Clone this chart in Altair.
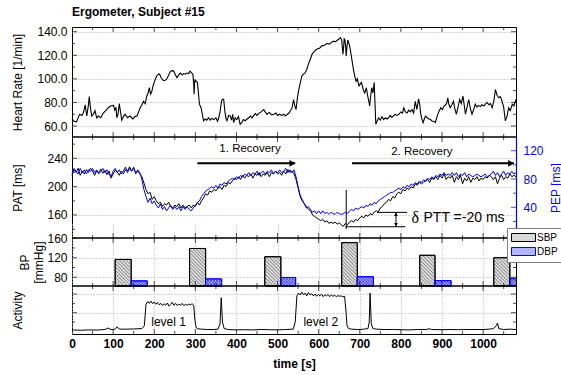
import altair as alt
import pandas as pd

FONT = "Liberation Sans"

# ------------------------------------------------------------------ data
hr_t = [0, 5, 11, 16, 19, 24, 28, 32, 36, 40,
        42, 45, 48, 52, 56, 60, 64, 70, 76, 82,
        88, 94, 101, 104, 107, 109, 112, 115, 118, 121,
        125, 129, 135, 141, 148, 153, 158, 162, 166, 170,
        174, 178, 182, 186, 188, 191, 194, 197, 200, 203,
        206, 210, 213, 217, 221, 225, 230, 235, 239, 243,
        247, 251, 255, 259, 263, 268, 272, 275, 280, 284,
        287, 291, 294, 296, 297, 298, 299, 302, 305, 307,
        310, 314, 317, 320, 324, 328, 332, 336, 340, 345,
        350, 354, 357, 360, 364, 367, 369, 372, 375, 377,
        381, 385, 388, 391, 393, 397, 401, 405, 409, 413,
        417, 421, 426, 430, 434, 438, 442, 446, 450, 455,
        460, 466, 470, 474, 480, 486, 491, 496, 500, 505,
        510, 515, 519, 524, 528, 531, 535, 539, 542, 545,
        548, 551, 555, 559, 563, 567, 571, 575, 579, 584,
        590, 596, 602, 608, 614, 620, 626, 631, 636, 641,
        646, 650, 653, 656, 658, 659, 661, 662, 664, 666,
        667, 669, 671, 673, 676, 680, 685, 688, 691, 694,
        698, 701, 704, 707, 709, 712, 716, 719, 722, 724,
        726, 729, 732, 735, 737, 739, 742, 746, 750, 754,
        758, 762, 766, 770, 774, 778, 782, 786, 790, 795,
        800, 804, 807, 811, 815, 819, 823, 827, 831, 835,
        839, 843, 846, 848, 851, 854, 857, 860, 864, 868,
        872, 876, 880, 884, 888, 892, 897, 901, 905, 909,
        912, 914, 917, 920, 924, 928, 931, 935, 939, 943,
        947, 951, 954, 957, 961, 965, 969, 973, 977, 981,
        985, 989, 993, 997, 1002, 1006, 1010, 1014, 1018, 1022,
        1026, 1030, 1034, 1038, 1042, 1046, 1050, 1054, 1058, 1062,
        1066, 1071, 1075, 1080]
hr_v = [66, 64, 63.5, 68, 70, 69, 71.5, 78, 68.5, 78,
        85, 75, 68.5, 70, 73, 67, 68.5, 67, 71, 73,
        75.5, 77, 77.5, 73.5, 76, 67, 70, 79, 72, 65,
        68, 70, 67, 68.5, 66, 68, 68.5, 72, 75.5, 78,
        81, 79, 85.5, 89, 92.5, 87, 89, 94, 97, 100,
        102.5, 104, 104, 101, 99, 98.5, 99.5, 103, 106, 107,
        106.8, 104, 101, 103, 105, 103.5, 104.5, 104, 105, 104.5,
        106.5, 105, 104, 96, 87, 95, 99, 98, 97, 90,
        78.5, 75.5, 70, 64.5, 66, 65, 67, 65, 66.5, 65.5,
        67, 64, 67, 72, 81.5, 83, 82.5, 72, 66, 64.5,
        69, 68.5, 65, 70, 63, 67, 65.5, 68, 61.5, 63,
        65.5, 64.5, 66, 67, 68.5, 67, 69, 70.5, 69, 71,
        72, 74, 72, 70, 71.5, 69.5, 70, 71, 69, 70,
        69, 70, 68.5, 70, 71, 73, 75, 82.5, 77, 74,
        83, 90, 96, 102.5, 104, 105, 108, 112.5, 116, 121,
        123.5, 125.3, 126, 128, 128.5, 130, 129.5, 131, 132, 131.5,
        133, 134, 135, 133, 125, 121, 128, 134, 133, 126,
        119.5, 128, 133, 131, 127, 118, 107, 102, 98, 100,
        94, 95.5, 97, 93, 90, 88, 92.5, 86, 81, 77,
        84, 92.5, 88, 97, 80, 61.5, 64, 67, 65, 68,
        65.5, 67, 66, 67, 69, 67.5, 68.5, 70, 69, 70,
        72, 71, 75.5, 72, 71, 73.5, 72, 74, 71, 81,
        74, 83, 78, 71, 66, 62.8, 66, 68.5, 67, 66,
        65.5, 64, 64, 63, 68, 72, 75.5, 74, 77, 78,
        80, 84, 78, 75.5, 78, 81, 75, 70, 76, 82.5,
        79, 85.5, 78, 70, 76, 82.5, 75, 70, 74, 78.5,
        76, 77.5, 76.5, 78, 77, 79, 80, 78, 79, 75.5,
        81, 91, 86, 84, 85, 81, 76, 64.5, 68, 75.5,
        73, 78.5, 77, 82.5]

pat_t = list(range(0, 1081, 5))
pat_v = [218, 224, 220, 226, 216, 222, 218, 224, 220, 226, 222, 216, 222, 220, 225, 219, 223, 217, 222, 212,
         218, 223, 221, 216, 222, 218, 224, 222, 228, 222, 226, 220, 222, 218, 214, 205, 196, 190, 192, 182,
         186, 180, 176, 178, 172, 176, 174, 178, 172, 170, 174, 172, 176, 170, 174, 170, 172, 174, 170, 174,
         172, 178, 174, 180, 184, 190, 188, 194, 192, 196, 194, 198, 200, 196, 202, 200, 206, 204, 208, 212,
         210, 214, 210, 216, 212, 216, 214, 218, 212, 218, 216, 220, 214, 218, 216, 220, 214, 220, 218, 222,
         218, 220, 216, 222, 218, 224, 220, 222, 218, 210, 198, 186, 180, 176, 172, 168, 166, 160, 158, 156,
         154, 152, 154, 150, 152, 148, 150, 148, 150, 147, 149, 146, 144, 148, 146, 150, 152, 150, 154, 152,
         156, 158, 156, 160, 158, 162, 160, 164, 166, 164, 170, 172, 176, 178, 182, 180, 186, 184, 190, 192,
         190, 196, 194, 198, 196, 200, 198, 204, 202, 206, 204, 206, 208, 210, 206, 212, 210, 214, 210, 216,
         212, 218, 210, 214, 212, 216, 206, 214, 210, 216, 204, 212, 208, 214, 206, 212, 210, 214, 208, 212,
         210, 214, 212, 216, 214, 210, 214, 204, 212, 216, 210, 214, 212, 218, 214, 216, 214]
pep_v = [85, 95, 91, 87, 95, 89, 93, 87, 93, 91, 95, 89, 93, 87, 91, 95, 89, 93, 87, 83,
         91, 95, 89, 93, 87, 91, 97, 89, 95, 91, 97, 87, 93, 89, 79, 65, 55, 47, 53, 45,
         49, 43, 39, 45, 37, 41, 35, 39, 43, 37, 41, 37, 41, 35, 41, 37, 41, 37, 35, 39,
         43, 47, 49, 55, 59, 63, 65, 67, 69, 67, 71, 67, 73, 71, 75, 73, 77, 79, 81, 79,
         83, 81, 85, 83, 87, 85, 89, 85, 89, 87, 91, 85, 89, 91, 87, 91, 89, 93, 87, 91,
         89, 93, 89, 91, 95, 89, 93, 89, 93, 83, 69, 57, 51, 45, 39, 41, 37, 33, 35, 31,
         35, 31, 35, 31, 33, 30, 33, 31, 30, 33, 31, 30, 31, 33, 31, 35, 37, 35, 39, 37,
         39, 41, 39, 43, 41, 45, 43, 47, 45, 49, 51, 53, 55, 57, 59, 61, 61, 63, 65, 67,
         65, 69, 67, 71, 69, 73, 71, 75, 73, 77, 75, 79, 77, 81, 79, 83, 81, 85, 83, 87,
         85, 89, 85, 87, 85, 89, 85, 89, 83, 87, 85, 89, 83, 87, 85, 83, 85, 87, 85, 83,
         85, 87, 83, 85, 87, 91, 85, 89, 83, 87, 91, 85, 89, 87, 91, 87, 89]

act_t = [0, 20, 40, 60, 80, 88, 95, 105, 110, 115,
         130, 150, 170, 176, 180, 184, 188, 192, 196, 200,
         204, 208, 212, 216, 220, 224, 228, 232, 236, 240,
         244, 248, 252, 256, 260, 264, 268, 272, 276, 280,
         284, 288, 292, 296, 299, 302, 306, 315, 330, 345,
         355, 360, 363, 366, 370, 380, 400, 420, 440, 460,
         480, 500, 520, 538, 543, 547, 551, 555, 559, 563,
         567, 571, 575, 579, 583, 587, 591, 595, 599, 603,
         607, 611, 615, 619, 623, 627, 631, 635, 639, 643,
         647, 651, 655, 659, 663, 666, 669, 673, 680, 695,
         710, 720, 723, 725, 728, 732, 740, 760, 780, 800,
         820, 840, 860, 870, 875, 900, 920, 940, 960, 980,
         1000, 1015, 1025, 1032, 1035, 1038, 1050, 1065, 1080]
act_v = [0.08, 0.06, 0.08, 0.07, 0.1, 0.18, 0.1, 0.12, 0.25, 0.12,
         0.12, 0.13, 0.15, 0.3, 1.45, 1.6, 1.5, 1.62, 1.48, 1.58,
         1.45, 1.55, 1.42, 1.5, 1.38, 1.48, 1.4, 1.52, 1.35, 1.45,
         1.56, 1.4, 1.5, 1.38, 1.46, 1.4, 1.5, 1.38, 1.45, 1.4,
         1.46, 1.42, 1.48, 1.4, 0.6, 0.2, 0.14, 0.12, 0.1, 0.1,
         0.12, 0.4, 1.8, 0.5, 0.15, 0.1, 0.08, 0.09, 0.08, 0.1,
         0.09, 0.08, 0.1, 0.12, 0.5, 1.9, 2.05, 1.95, 2.1, 1.95,
         2.05, 1.9, 2.08, 1.95, 2.02, 1.9, 2.0, 1.88, 1.98, 1.9,
         2.0, 1.86, 1.96, 1.9, 1.98, 1.86, 1.95, 1.88, 1.94, 1.85,
         1.92, 1.88, 1.9, 1.85, 1.88, 1.2, 0.3, 0.15, 0.12, 0.1,
         0.12, 0.15, 0.5, 2.05, 0.4, 0.15, 0.12, 0.1, 0.1, 0.09,
         0.08, 0.1, 0.1, 0.14, 0.1, 0.09, 0.1, 0.09, 0.1, 0.1,
         0.1, 0.12, 0.15, 0.3, 0.45, 0.15, 0.1, 0.12, 0.1]

sbp_start = [105, 286, 469, 656, 846, 1026]
sbp_end = [144, 325, 508, 694, 883, 1065]
sbp_val = [116.5, 139, 122, 151, 125, 120]
dbp_start = [144, 325, 508, 694, 883, 1065]
dbp_end = [183, 364, 544, 733, 922, 1104]
dbp_val = [72.5, 76.5, 79.5, 81, 73, 77]
bp_kinds = ["SBP", "DBP"]

# annotation texts / anchors
recovery_text = ["1. Recovery", "2. Recovery"]
recovery_text_t = [433, 851]
recovery_text_pat = [253, 249.5]
recovery_t0 = [305, 681]
recovery_t1 = [543, 1075]
recovery_pat = [233, 233]
level_text = ["level 1", "level 2"]
level_t = [235, 605]
level_act = [0.52, 0.52]
marker_t = [667]
marker_pat0 = [195.3]
marker_pat1 = [140.2]
dptt_line_t0 = [742, 665]
dptt_line_t1 = [815, 811]
dptt_line_pat = [163.7, 143.4]
dptt_arrow_t = [788]
dptt_sym_t = [826]
dptt_txt_t = [855]
dptt_txt_pat = [155.3]

# ------------------------------------------------------------------ layout
W, H = 444, 307
T_MAX = 1080
HR_DOM, HR_RNG = [50.7, 144], [110, 0]
PAT_DOM, PAT_RNG = [127.5, 270.1], [211, 110]
PEP_DOM = [-3.4, 139.4]
BP_DOM, BP_RNG = [62, 160.5], [259, 211]
ACT_DOM, ACT_RNG = [-0.14, 2.43], [307, 259]
BORDERS = [0, 110, 211, 259, 307]

xs = alt.Scale(domain=[0, T_MAX], nice=False, zero=False)
hr_s = alt.Scale(domain=HR_DOM, range=HR_RNG, nice=False, zero=False)
pat_s = alt.Scale(domain=PAT_DOM, range=PAT_RNG, nice=False, zero=False)
pep_s = alt.Scale(domain=PEP_DOM, range=PAT_RNG, nice=False, zero=False)
bp_s = alt.Scale(domain=BP_DOM, range=BP_RNG, nice=False, zero=False)
act_s = alt.Scale(domain=ACT_DOM, range=ACT_RNG, nice=False, zero=False)

GRID = dict(grid=True, gridColor="#b0b0b0", gridDash=[1, 2], gridWidth=1)

x_axis = alt.Axis(values=list(range(0, 1001, 100)), format="d", title="time [s]",
                  labelFontWeight="bold", titleFontWeight="bold", ticks=False,
                  domain=False, labelFlush=False, labelOverlap=False,
                  labelPadding=4, titlePadding=9, **GRID)


def yaxis(**kw):
    base = dict(orient="left", ticks=False, domain=False, labelFlush=False,
                labelOverlap=False, labelPadding=5, titleBaseline="middle",
                titleAlign="center", **GRID)
    base.update(kw)
    return alt.Axis(**base)


hr_axis = yaxis(values=[60, 80, 100, 120, 140], format=".1f",
                title="Heart Rate [1/min]", titleX=-54.5)
pat_axis = yaxis(values=[160, 200, 240], title="PAT [ms]", titleX=-54.5)
pep_axis = alt.Axis(orient="right", values=[40, 80, 120], title="PEP [ms]",
                    titleAngle=270, titleX=39, titleBaseline="middle", titleAlign="center",
                    grid=False, ticks=False, domain=True, domainColor="#0000ff",
                    domainWidth=1.2, labelColor="#0000ff", titleColor="#0000ff",
                    labelPadding=7, labelFlush=False, labelOverlap=False)
bp_axis = yaxis(values=[80, 120, 160], title=["BP", "[mmHg]"], titleX=-48)
act_axis = yaxis(values=[1, 2], labels=False, title="Activity", titleX=-54.5)


def X(field):
    return alt.X(field, scale=xs, axis=x_axis)


def Y(field, scale, axis):
    return alt.Y(field, scale=scale, axis=axis)


def yticks(major, minor, scale, axis, color="black", sides=("left", "right")):
    df = pd.DataFrame({"v": major + minor,
                       "len": [10] * len(major) + [6] * len(minor)})
    out = []
    for s in sides:
        out.append(alt.Chart(df).mark_tick(orient="horizontal", color=color,
                                           thickness=1, clip=True).encode(
            y=Y("v:Q", scale, axis),
            x=alt.value(0 if s == "left" else W),
            size=alt.Size("len:Q", scale=None)))
    return out


# ------------------------------------------------------------------ HR
hr_df = pd.DataFrame({"t": hr_t, "hr": hr_v})
hr_line = alt.Chart(hr_df).mark_line(color="black", strokeWidth=1.1).encode(
    x=X("t:Q"), y=Y("hr:Q", hr_s, hr_axis))
hr_group = alt.layer(hr_line, *yticks([60, 80, 100, 120, 140], [70, 90, 110, 130], hr_s, hr_axis))

# ------------------------------------------------------------------ PAT
pat_df = pd.DataFrame({"t": pat_t, "pat": pat_v})
pat_line = alt.Chart(pat_df).mark_line(color="black", strokeWidth=1).encode(
    x=X("t:Q"), y=Y("pat:Q", pat_s, pat_axis))

rec_df = pd.DataFrame({"t0": recovery_t0, "t1": recovery_t1, "p": recovery_pat,
                       "txt": recovery_text, "tt": recovery_text_t, "tp": recovery_text_pat})
rec_lines = alt.Chart(rec_df).mark_rule(color="black", strokeWidth=2).encode(
    x=X("t0:Q"), x2="t1:Q", y=Y("p:Q", pat_s, pat_axis))
rec_heads = alt.Chart(rec_df).transform_calculate(th="datum.t1 - 7").mark_point(
    shape="triangle-right", filled=True, color="black", size=45, opacity=1).encode(
    x=X("th:Q"), y=Y("p:Q", pat_s, pat_axis))
rec_text = alt.Chart(rec_df).mark_text(font=FONT, fontSize=11.5, color="black").encode(
    x=X("tt:Q"), y=Y("tp:Q", pat_s, pat_axis), text="txt:N")

mk_df = pd.DataFrame({"t": marker_t, "p0": marker_pat0, "p1": marker_pat1})
marker = alt.Chart(mk_df).mark_rule(color="black", strokeWidth=1).encode(
    x=X("t:Q"), y=Y("p0:Q", pat_s, pat_axis), y2="p1:Q")

dl_df = pd.DataFrame({"t0": dptt_line_t0, "t1": dptt_line_t1, "p": dptt_line_pat})
dlines = alt.Chart(dl_df).mark_rule(color="black", strokeWidth=1).encode(
    x=X("t0:Q"), x2="t1:Q", y=Y("p:Q", pat_s, pat_axis))
da_df = pd.DataFrame({"t": dptt_arrow_t, "p0": [dptt_line_pat[0]], "p1": [dptt_line_pat[1]]})
darrow = alt.Chart(da_df).mark_rule(color="black", strokeWidth=1).encode(
    x=X("t:Q"), y=Y("p0:Q", pat_s, pat_axis), y2="p1:Q")
dhead_up = alt.Chart(da_df).transform_calculate(p="datum.p0 - 3").mark_point(
    shape="triangle-up", filled=True, color="black", size=14, opacity=1).encode(
    x=X("t:Q"), y=Y("p:Q", pat_s, pat_axis))
dhead_dn = alt.Chart(da_df).transform_calculate(p="datum.p1 + 3").mark_point(
    shape="triangle-down", filled=True, color="black", size=14, opacity=1).encode(
    x=X("t:Q"), y=Y("p:Q", pat_s, pat_axis))
dt_df = pd.DataFrame({"ts": dptt_sym_t, "tt": dptt_txt_t, "p": dptt_txt_pat,
                      "sym": ["δ"], "txt": ["PTT =-20 ms"]})
dsym = alt.Chart(dt_df).mark_text(font="Liberation Serif", fontSize=16, align="left",
                                  baseline="middle", color="black").encode(
    x=X("ts:Q"), y=Y("p:Q", pat_s, pat_axis), text="sym:N")
dtxt = alt.Chart(dt_df).mark_text(font=FONT, fontSize=14, align="left",
                                  baseline="middle", color="black").encode(
    x=X("tt:Q"), y=Y("p:Q", pat_s, pat_axis), text="txt:N")

pat_group = alt.layer(pat_line, *yticks([160, 200, 240], [140, 180, 220, 260], pat_s, pat_axis,
                                        sides=("left",)),
                      rec_lines, rec_heads, rec_text, marker, dlines, darrow,
                      dhead_up, dhead_dn, dsym, dtxt)

# ------------------------------------------------------------------ PEP
pep_df = pd.DataFrame({"t": pat_t, "pep": pep_v})
pep_line = alt.Chart(pep_df).mark_line(color="#0000ff", strokeWidth=1).encode(
    x=X("t:Q"), y=Y("pep:Q", pep_s, pep_axis))
pep_group = alt.layer(pep_line, *yticks([40, 80, 120], [20, 60, 100], pep_s, pep_axis,
                                        color="#0000ff", sides=("right",)))

# ------------------------------------------------------------------ BP
bp_df = pd.DataFrame({
    "kind": [bp_kinds[0]] * len(sbp_val) + [bp_kinds[1]] * len(dbp_val),
    "t0": sbp_start + dbp_start, "t1": sbp_end + dbp_end, "v": sbp_val + dbp_val})
legend = alt.Legend(orient="none", legendX=435, legendY=201, title=None,
                    symbolType="M-2.4,-0.8H2.4V0.8H-2.4Z", symbolSize=100,
                    symbolStrokeWidth=1, symbolOffset=7, labelOffset=8,
                    labelFont=FONT, labelFontSize=10, labelColor="black",
                    padding=4, rowPadding=1, strokeColor="#808080", fillColor="white")
fill_s = alt.Scale(domain=bp_kinds, range=["#dadada", "#b4b4ff"])
stroke_s = alt.Scale(domain=bp_kinds, range=["black", "#0000ff"])
bp_rect = alt.Chart(bp_df).mark_rect(clip=True, strokeWidth=1).encode(
    x=X("t0:Q"), x2="t1:Q",
    y=Y("v:Q", bp_s, bp_axis),
    y2=alt.datum(BP_DOM[0]),
    fill=alt.Fill("kind:N", scale=fill_s, legend=legend),
    stroke=alt.Stroke("kind:N", scale=stroke_s, legend=legend))

KX = W / T_MAX
KY = (BP_RNG[0] - BP_RNG[1]) / (BP_DOM[1] - BP_DOM[0])


def hatch(kind, family, color, step, width):
    c = alt.Chart(bp_df).transform_filter(f"datum.kind == '{kind}'").transform_calculate(
        w=f"(datum.t1 - datum.t0) * {KX}",
        h=f"(datum.v - {BP_DOM[0]}) * {KY}")
    if family == "A":
        c = c.transform_calculate(c=f"sequence(-datum.h + {step / 2}, datum.w, {step})") \
             .transform_flatten(["c"]) \
             .transform_calculate(ua="max(0, datum.c)", ub="min(datum.w, datum.c + datum.h)") \
             .transform_calculate(va="datum.ua - datum.c", vb="datum.ub - datum.c")
    else:
        c = c.transform_calculate(c=f"sequence({step / 2}, datum.w + datum.h, {step})") \
             .transform_flatten(["c"]) \
             .transform_calculate(ua="max(0, datum.c - datum.h)", ub="min(datum.w, datum.c)") \
             .transform_calculate(va="datum.c - datum.ua", vb="datum.c - datum.ub")
    c = c.transform_calculate(
        xa=f"datum.t0 + datum.ua / {KX}", xb=f"datum.t0 + datum.ub / {KX}",
        ya=f"datum.v - datum.va / {KY}", yb=f"datum.v - datum.vb / {KY}")
    return c.mark_rule(color=color, strokeWidth=width, clip=True).encode(
        x=X("xa:Q"), x2="xb:Q", y=Y("ya:Q", bp_s, bp_axis), y2="yb:Q")


bp_outline = alt.Chart(bp_df).mark_rect(clip=True, strokeWidth=1, fillOpacity=0).encode(
    x=X("t0:Q"), x2="t1:Q", y=Y("v:Q", bp_s, bp_axis),
    y2=alt.datum(BP_DOM[0]),
    stroke=alt.Stroke("kind:N", scale=stroke_s, legend=legend))
bp_group = alt.layer(bp_rect,
                     hatch("SBP", "A", "#7a7a7a", 3.5, 0.9),
                     hatch("DBP", "A", "#3030ff", 3, 0.8),
                     hatch("DBP", "B", "#3030ff", 3, 0.8),
                     bp_outline,
                     *yticks([80, 120, 160], [100, 140], bp_s, bp_axis))

# ------------------------------------------------------------------ Activity
act_df = pd.DataFrame({"t": act_t, "a": act_v})
act_line = alt.Chart(act_df).mark_line(color="black", strokeWidth=1).encode(
    x=X("t:Q"), y=Y("a:Q", act_s, act_axis))
lv_df = pd.DataFrame({"t": level_t, "a": level_act, "txt": level_text})
lv_text = alt.Chart(lv_df).mark_text(font=FONT, fontSize=12, color="black").encode(
    x=X("t:Q"), y=Y("a:Q", act_s, act_axis), text="txt:N")
act_group = alt.layer(act_line, lv_text, *yticks([1, 2], [0.5, 1.5], act_s, act_axis))

# ------------------------------------------------------------------ frame
xt_major = list(range(100, 1001, 100))
xt_minor = list(range(50, 1051, 100))
xt_rows = {"v": [], "b": [], "len": []}
for b in BORDERS:
    for v in xt_major:
        xt_rows["v"].append(v); xt_rows["b"].append(b); xt_rows["len"].append(10)
    for v in xt_minor:
        xt_rows["v"].append(v); xt_rows["b"].append(b); xt_rows["len"].append(6)
xticks = alt.Chart(pd.DataFrame(xt_rows)).mark_tick(orient="vertical", color="black",
                                                    thickness=1, clip=True).encode(
    x=X("v:Q"), y=alt.Y("b:Q", scale=None),
    size=alt.Size("len:Q", scale=None))
seps = alt.Chart(pd.DataFrame({"b": BORDERS[1:-1]})).mark_rule(color="black", strokeWidth=1.6).encode(
    y=alt.Y("b:Q", scale=None), x=alt.value(0), x2=alt.value(W))

chart = alt.layer(hr_group, pat_group, pep_group, bp_group, act_group, xticks, seps).resolve_scale(
    y="independent"
).properties(
    width=W, height=H,
    padding={"left": 72, "top": 27, "right": 45, "bottom": 41},
    autosize=alt.AutoSizeParams(type="none"),
    title=alt.TitleParams("Ergometer, Subject #15", anchor="start", frame="group",
                          fontSize=12, fontWeight="bold", font=FONT, color="black", offset=7),
).configure_view(stroke="black", strokeWidth=1).configure_axis(
    labelFont=FONT, titleFont=FONT, labelFontSize=12, titleFontSize=12,
    labelColor="black", titleColor="black", titleFontWeight="normal"
).configure_text(font=FONT)

chart.save("out.html", embed_options={"renderer": "svg", "actions": False})
